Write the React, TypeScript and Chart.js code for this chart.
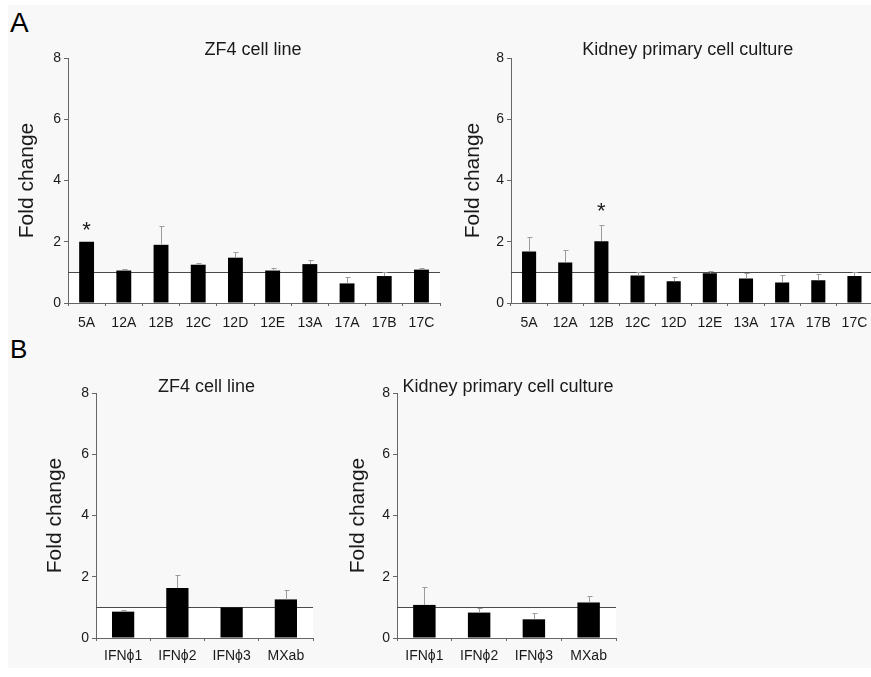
import React, { useEffect, useRef } from 'react';
import { Chart, registerables } from 'chart.js';

Chart.register(...registerables);

// ---------- data ----------
const geneCategories = ['5A', '12A', '12B', '12C', '12D', '12E', '13A', '17A', '17B', '17C'];
const ifnCategories = ['IFN\u03D51', 'IFN\u03D52', 'IFN\u03D53', 'MXab'];
const yTickValues = [0, 2, 4, 6, 8];
const referenceLevel = 1;

const aZf4Values = [2.0, 1.06, 1.9, 1.25, 1.48, 1.06, 1.27, 0.64, 0.88, 1.09];
const aZf4Errors = [0.0, 0.05, 0.6, 0.05, 0.18, 0.08, 0.14, 0.21, 0.12, 0.05];
const aZf4Stars = [2.58, null, null, null, null, null, null, null, null, null];

const aKidneyValues = [1.68, 1.32, 2.02, 0.9, 0.71, 0.97, 0.8, 0.67, 0.74, 0.88];
const aKidneyErrors = [0.47, 0.42, 0.52, 0.1, 0.13, 0.06, 0.18, 0.25, 0.22, 0.12];
const aKidneyStars = [null, null, 3.2, null, null, null, null, null, null, null];

const bZf4Values = [0.86, 1.63, 1.0, 1.26];
const bZf4Errors = [0.04, 0.42, 0.0, 0.32];
const bZf4Stars = [null, null, null, null];

const bKidneyValues = [1.08, 0.83, 0.61, 1.16];
const bKidneyErrors = [0.58, 0.14, 0.21, 0.22];
const bKidneyStars = [null, null, null, null];

const titleZf4 = 'ZF4 cell line';
const titleKidney = 'Kidney primary cell culture';
const yAxisTitle = 'Fold change';

// ---------- style ----------
const FONT = '"Liberation Sans", Arial, Helvetica, sans-serif';
const AXIS = '#666666';
const TEXT = '#1a1a1a';
const ERR = '#9c9c9c';
const Y_AXIS_W = 60;
const X_AXIS_H = 30;
const TOP_PAD = 30;
const RIGHT_PAD = 2;

type PanelProps = {
  labels: string[];
  values: number[];
  errors: number[];
  stars: (number | null)[];
  title: string;
  left: number;
  top: number;
  width: number;
  height: number;
  yTitlePad: number;
  xLabelPad: number;
  titleGap: number;
  titleDx: number;
  barPct: number;
};

function Panel(p: PanelProps) {
  const ref = useRef<HTMLCanvasElement | null>(null);

  useEffect(() => {
    if (!ref.current) return;
    const panelPlugin = {
      id: 'panelDecor',
      beforeDraw(chart: any) {
        const { ctx, scales } = chart;
        const x = scales.x;
        const y = scales.y;
        const yRef = y.getPixelForValue(referenceLevel);
        const y0 = y.getPixelForValue(0);
        ctx.save();
        ctx.fillStyle = '#ffffff';
        ctx.fillRect(x.left, yRef, x.right - x.left, y0 - yRef);
        ctx.restore();
      },
      beforeDatasetsDraw(chart: any) {
        const { ctx, scales } = chart;
        const x = scales.x;
        const y = scales.y;
        const yRef = Math.round(y.getPixelForValue(referenceLevel)) + 0.5;
        ctx.save();
        ctx.strokeStyle = '#4a4a4a';
        ctx.lineWidth = 1;
        ctx.beginPath();
        ctx.moveTo(x.left, yRef);
        ctx.lineTo(x.right, yRef);
        ctx.stroke();
        ctx.restore();
      },
      afterDatasetsDraw(chart: any) {
        const { ctx, scales, chartArea } = chart;
        const y = scales.y;
        const meta = chart.getDatasetMeta(0);
        ctx.save();
        ctx.strokeStyle = ERR;
        ctx.lineWidth = 1;
        meta.data.forEach((bar: any, i: number) => {
          const e = p.errors[i];
          if (!e) return;
          const cx = Math.round(bar.x) + 0.5;
          const yTop = y.getPixelForValue(p.values[i]);
          const yErr = Math.round(y.getPixelForValue(p.values[i] + e)) + 0.5;
          ctx.beginPath();
          ctx.moveTo(cx, yTop);
          ctx.lineTo(cx, yErr);
          ctx.moveTo(cx - 2, yErr);
          ctx.lineTo(cx + 3, yErr);
          ctx.stroke();
        });
        // significance stars
        ctx.fillStyle = TEXT;
        ctx.font = `22px ${FONT}`;
        ctx.textAlign = 'center';
        ctx.textBaseline = 'alphabetic';
        meta.data.forEach((bar: any, i: number) => {
          const s = p.stars[i];
          if (s === null || s === undefined) return;
          ctx.fillText('*', bar.x, y.getPixelForValue(s) + 12.7);
        });
        // panel title
        ctx.font = `18px ${FONT}`;
        ctx.textBaseline = 'middle';
        ctx.fillText(
          p.title,
          (chartArea.left + chartArea.right) / 2 + p.titleDx,
          chartArea.top - p.titleGap
        );
        ctx.restore();
      },
    };

    const chart = new Chart(ref.current, {
      type: 'bar',
      data: {
        labels: p.labels,
        datasets: [
          {
            data: p.values,
            backgroundColor: '#000000',
            borderWidth: 0,
            barPercentage: p.barPct,
            categoryPercentage: 1,
          },
        ],
      },
      options: {
        animation: false,
        responsive: false,
        maintainAspectRatio: false,
        devicePixelRatio: 1,
        layout: { padding: { top: TOP_PAD, right: RIGHT_PAD, left: 0, bottom: 0 } },
        plugins: {
          legend: { display: false },
          tooltip: { enabled: false },
          title: { display: false },
        },
        scales: {
          x: {
            offset: true,
            grid: {
              display: true,
              offset: true,
              drawOnChartArea: false,
              drawTicks: true,
              tickLength: 3,
              tickColor: AXIS,
            },
            border: { display: true, color: AXIS, width: 1 },
            ticks: {
              color: TEXT,
              font: { family: FONT, size: 14 },
              padding: p.xLabelPad,
              maxRotation: 0,
              autoSkip: false,
            },
            afterFit: (s: any) => {
              s.height = X_AXIS_H;
            },
          },
          y: {
            min: 0,
            max: 8,
            afterBuildTicks: (s: any) => {
              s.ticks = yTickValues.map((v) => ({ value: v }));
            },
            grid: {
              display: true,
              drawOnChartArea: false,
              drawTicks: true,
              tickLength: 4,
              tickColor: AXIS,
            },
            border: { display: true, color: AXIS, width: 1 },
            ticks: {
              color: TEXT,
              font: { family: FONT, size: 14 },
              padding: 3,
            },
            title: {
              display: true,
              text: yAxisTitle,
              color: TEXT,
              font: { family: FONT, size: 21 },
              padding: { top: p.yTitlePad, bottom: 0 },
            },
            afterFit: (s: any) => {
              s.width = Y_AXIS_W;
            },
          },
        },
      },
      plugins: [panelPlugin],
    } as any);

    return () => {
      chart.destroy();
    };
  }, []);

  return (
    <canvas
      ref={ref}
      width={p.width}
      height={p.height}
      style={{
        position: 'absolute',
        left: p.left,
        top: p.top,
        width: p.width,
        height: p.height,
      }}
    />
  );
}

export default function App() {
  return (
    <div
      style={{
        position: 'fixed',
        left: 0,
        top: 0,
        width: 871,
        height: 677,
        overflow: 'hidden',
        background: '#ffffff',
      }}
    >
      <div
        style={{
          position: 'absolute',
          left: 8,
          top: 5,
          right: 0,
          bottom: 9,
          background: '#f8f8f8',
        }}
      />
      <div
        style={{
          position: 'absolute',
          left: 10,
          top: 9,
          font: `28px ${FONT}`,
          lineHeight: '28px',
          color: '#000',
        }}
      >
        A
      </div>
      <div
        style={{
          position: 'absolute',
          left: 10,
          top: 336,
          font: `26px ${FONT}`,
          lineHeight: '26px',
          color: '#000',
        }}
      >
        B
      </div>
      <Panel
        labels={geneCategories}
        values={aZf4Values}
        errors={aZf4Errors}
        stars={aZf4Stars}
        title={titleZf4}
        left={8}
        top={28}
        width={435}
        height={305}
        yTitlePad={6.4}
        xLabelPad={8.6}
        titleGap={8}
        titleDx={-1}
        barPct={0.4}
      />
      <Panel
        labels={geneCategories}
        values={aKidneyValues}
        errors={aKidneyErrors}
        stars={aKidneyStars}
        title={titleKidney}
        left={451}
        top={28}
        width={425}
        height={305}
        yTitlePad={9.7}
        xLabelPad={8.6}
        titleGap={8}
        titleDx={-4}
        barPct={0.39}
      />
      <Panel
        labels={ifnCategories}
        values={bZf4Values}
        errors={bZf4Errors}
        stars={bZf4Stars}
        title={titleZf4}
        left={36}
        top={363}
        width={279}
        height={305}
        yTitlePad={6.4}
        xLabelPad={7}
        titleGap={6}
        titleDx={2}
        barPct={0.41}
      />
      <Panel
        labels={ifnCategories}
        values={bKidneyValues}
        errors={bKidneyErrors}
        stars={bKidneyStars}
        title={titleKidney}
        left={337}
        top={363}
        width={281}
        height={305}
        yTitlePad={8.7}
        xLabelPad={7}
        titleGap={6}
        titleDx={1.5}
        barPct={0.41}
      />
    </div>
  );
}
